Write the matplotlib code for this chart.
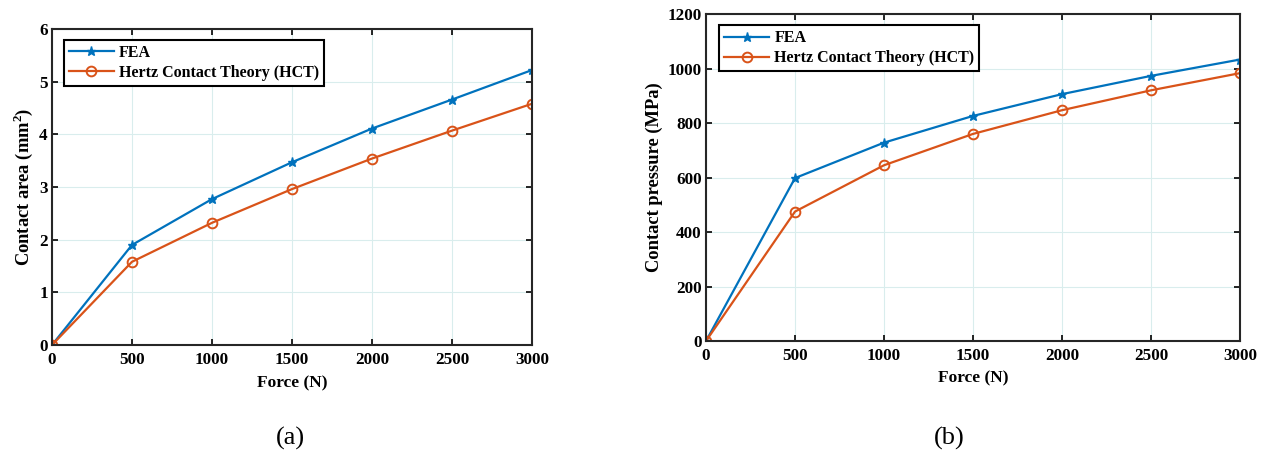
import numpy as np
import matplotlib
matplotlib.use('Agg')
import matplotlib.pyplot as plt

plt.rcParams['font.family'] = ['Liberation Serif', 'DejaVu Serif']
plt.rcParams['mathtext.fontset'] = 'custom'
plt.rcParams['mathtext.rm'] = 'Liberation Serif'
plt.rcParams['mathtext.bf'] = 'Liberation Serif:bold'

# 数据
force = [0, 500, 1000, 1500, 2000, 2500, 3000]
area_fea = [0, 1.90, 2.77, 3.47, 4.11, 4.66, 5.22]
area_hct = [0, 1.58, 2.32, 2.96, 3.54, 4.07, 4.58]
pres_fea = [0, 598, 728, 826, 906, 973, 1033]
pres_hct = [0, 475, 645, 760, 847, 920, 983]

blue = '#0072BD'
orange = '#D95319'

fig = plt.figure(figsize=(12.68, 4.51), dpi=100)
ax1 = fig.add_axes([0.041, 0.235, 0.3785, 0.7007])
ax2 = fig.add_axes([0.5568, 0.2439, 0.4211, 0.725])


def style(ax, ys, ylabel, ylim, yticks):
    ax.plot(force, ys[0], color=blue, marker='*', markersize=6.5, lw=1.6, label='FEA')
    ax.plot(force, ys[1], color=orange, marker='o', markersize=7, mfc='none', mew=1.4,
            lw=1.6, label='Hertz Contact Theory (HCT)')
    ax.set_xlim(0, 3000)
    ax.set_ylim(*ylim)
    ax.set_xticks(force)
    ax.set_yticks(yticks)
    ax.grid(True, color='#d9eded', lw=0.8)
    ax.set_axisbelow(True)
    ax.tick_params(direction='in', top=True, right=True, length=4, width=1.2, labelsize=12.3, pad=3)
    ax.tick_params(axis='x', pad=5)
    for lab in ax.get_xticklabels() + ax.get_yticklabels():
        lab.set_fontweight('bold')
    for s in ax.spines.values():
        s.set_linewidth(1.5)
        s.set_color('#262626')
    ax.set_xlabel('Force (N)', fontsize=12.5, fontweight='bold', labelpad=5)
    ax.set_ylabel(ylabel, fontsize=13.3, fontweight='bold', labelpad=3)
    leg = ax.legend(loc='upper left', bbox_to_anchor=(0.025, 0.965), fancybox=False, framealpha=1,
                    edgecolor='black', prop={'weight': 'bold', 'size': 11.5},
                    handlelength=2.8, handletextpad=0.35, borderpad=0.3, labelspacing=0.25,
                    borderaxespad=0.0)
    leg.get_frame().set_linewidth(1.5)


style(ax1, (area_fea, area_hct), r'Contact area (mm$^{\mathbf{2}}$)', (0, 6), range(0, 7))
style(ax2, (pres_fea, pres_hct), 'Contact pressure (MPa)', (0, 1200), range(0, 1201, 200))

fig.text(0.229, 0.015, '(a)', fontsize=19, ha='center')
fig.text(0.749, 0.015, '(b)', fontsize=19, ha='center')

fig.savefig('out.png', dpi=100)
